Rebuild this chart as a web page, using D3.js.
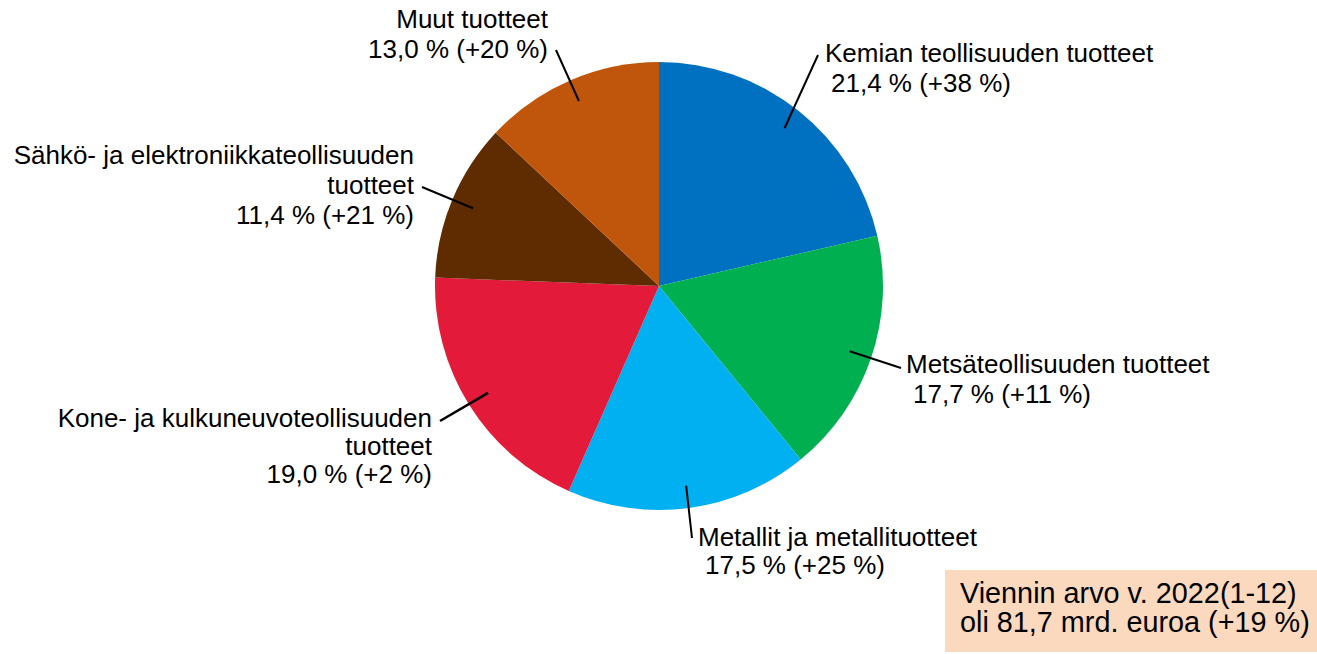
<!DOCTYPE html>
<html>
<head>
<meta charset="utf-8">
<script src="https://cdn.jsdelivr.net/npm/d3@7"></script>
<style>
  html, body { margin: 0; padding: 0; background: #fff; }
  svg { display: block; }
  text { font-family: "Liberation Sans", Arial, sans-serif; fill: #000; }
</style>
</head>
<body>
<svg id="chart" width="1317" height="654"></svg>
<script>
// ---- Data ----
const categories = [
  "Kemian teollisuuden tuotteet",
  "Metsäteollisuuden tuotteet",
  "Metallit ja metallituotteet",
  "Kone- ja kulkuneuvoteollisuuden tuotteet",
  "Sähkö- ja elektroniikkateollisuuden tuotteet",
  "Muut tuotteet"
];
const shares = [21.4, 17.7, 17.5, 19.0, 11.4, 13.0];
const changes = [38, 11, 25, 2, 21, 20];
const colors = ["#0070C0", "#00B050", "#00B0F0", "#E31A3A", "#5F2B00", "#BF560B"];
const labelLines = [
  ["Kemian teollisuuden tuotteet"],
  ["Metsäteollisuuden tuotteet"],
  ["Metallit ja metallituotteet"],
  ["Kone- ja kulkuneuvoteollisuuden", "tuotteet"],
  ["Sähkö- ja elektroniikkateollisuuden", "tuotteet"],
  ["Muut tuotteet"]
];
const noteLines = ["Viennin arvo v. 2022(1-12)", "oli 81,7 mrd. euroa (+19 %)"];

// ---- Layout ----
const cx = 659, cy = 286, R = 224;
const fontSize = 26;
// label anchor (first baseline), alignment, line height, extra indent of the value line, leader outer end
const labelLayout = [
  { x: 825, y: 62,  anchor: "start", lh: 30, indent: 6, lx: 818, ly: 55 },
  { x: 906, y: 373, anchor: "start", lh: 30, indent: 7, lx: 901, ly: 368 },
  { x: 698, y: 546, anchor: "start", lh: 27.5, indent: 7, lx: 692, ly: 538 },
  { x: 432, y: 427, anchor: "end",   lh: 28, indent: 0, lx: 440, ly: 421 },
  { x: 414, y: 164, anchor: "end",   lh: 30, indent: 0, lx: 422, ly: 187 },
  { x: 548, y: 28,  anchor: "end",   lh: 30, indent: 0, lx: 556, ly: 50 }
];

const fmt = v => d3.format(".1f")(v).replace(".", ",");

const svg = d3.select("#chart");
const g = svg.append("g").attr("transform", `translate(${cx},${cy})`);

const pie = d3.pie().sort(null).value(d => d)(shares);
const arc = d3.arc().innerRadius(0).outerRadius(R);

g.selectAll("path.slice")
  .data(pie)
  .join("path")
  .attr("class", "slice")
  .attr("d", arc)
  .attr("fill", (d, i) => colors[i]);

// leader lines
pie.forEach((d, i) => {
  const a = (d.startAngle + d.endAngle) / 2;
  const r = R * 0.9;
  const x1 = cx + r * Math.sin(a), y1 = cy - r * Math.cos(a);
  const L = labelLayout[i];
  svg.append("line")
    .attr("x1", x1).attr("y1", y1)
    .attr("x2", L.lx).attr("y2", L.ly)
    .attr("stroke", "#000")
    .attr("stroke-width", i === 3 ? 2.6 : 2);
});

// labels
labelLines.forEach((lines, i) => {
  const L = labelLayout[i];
  const t = svg.append("text")
    .attr("font-size", fontSize)
    .attr("text-anchor", L.anchor);
  const all = lines.concat([`${fmt(shares[i])} % (+${changes[i]} %)`]);
  all.forEach((s, k) => {
    const isVal = k === all.length - 1;
    t.append("tspan")
      .attr("x", L.x + (isVal ? L.indent : 0))
      .attr("y", L.y + k * L.lh)
      .text(s);
  });
});

// note box
const note = svg.append("g");
note.append("rect")
  .attr("x", 945).attr("y", 570)
  .attr("width", 372).attr("height", 82)
  .attr("fill", "#FBD9BE");
const nt = note.append("text").attr("font-size", 28.8);
noteLines.forEach((s, k) => {
  nt.append("tspan").attr("x", 960).attr("y", 603 + k * 29).text(s);
});
</script>
</body>
</html>
